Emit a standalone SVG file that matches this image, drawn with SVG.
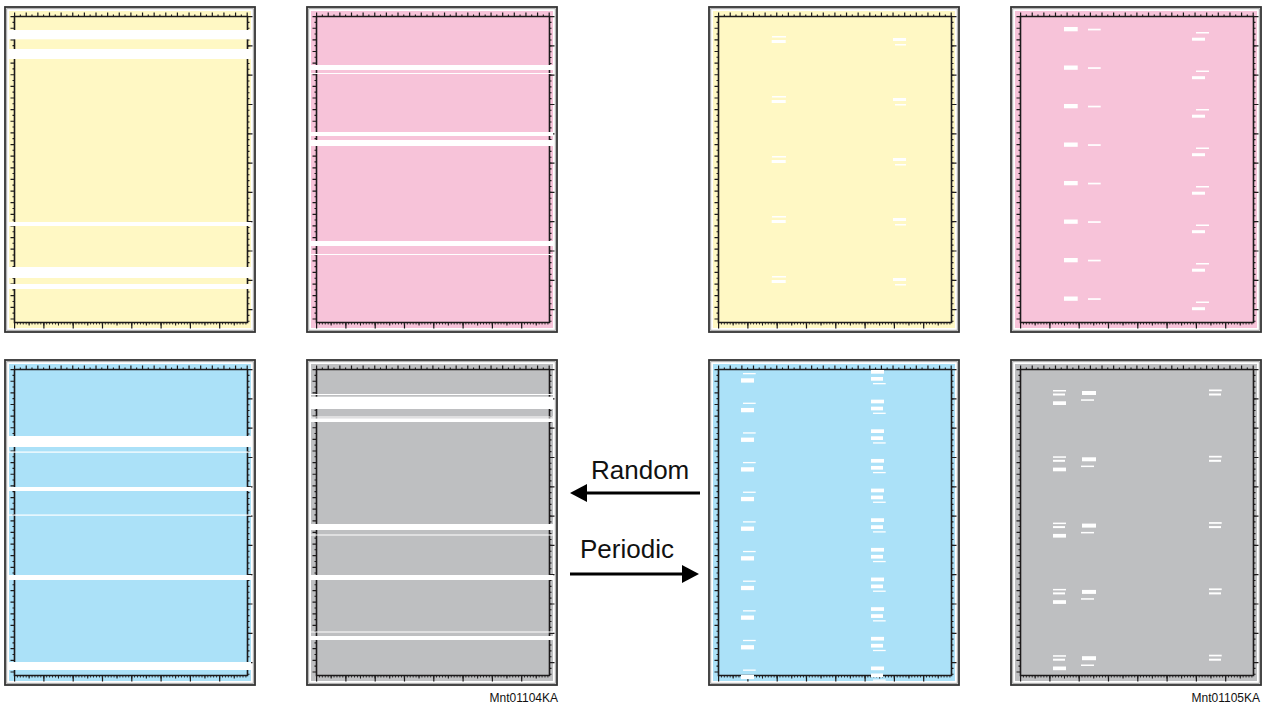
<svg xmlns="http://www.w3.org/2000/svg" width="1262" height="707" viewBox="0 0 1262 707">
<style>
.frame{fill:#fff;stroke:#333;stroke-width:1.8}
.inner{fill:none;stroke:#9a9a9a;stroke-width:0.9}
.tk{fill:none;stroke:#1c1a1b}
.w rect,.w{fill:#fff}
.cy{fill:#fff8c4}.cp{fill:#f7c3d9}.cc{fill:#abe1f8}.cg{fill:#bebfc1}
.lbl{font-family:"Liberation Sans",Arial,sans-serif;fill:#111}
.arr{stroke:#000;stroke-width:3;fill:none}
</style>
<defs>
<marker id="ah" markerUnits="userSpaceOnUse" markerWidth="18" markerHeight="19" refX="0" refY="9" orient="auto">
<path d="M0,0 L17,9 L0,18 Z" fill="#000"/>
</marker>
<g id="ruler" class="tk">
<path d="M9.5,315.5 V9.5 H242.5 V315.5 Z" stroke-width="1.6"/>
<line x1="9" y1="7.5" x2="243" y2="7.5" stroke-width="4" stroke-dasharray="1.2 10.43"/>
<line x1="14.8" y1="8.5" x2="243" y2="8.5" stroke-width="2" stroke-dasharray="1.1 10.53"/>
<line x1="7.5" y1="9" x2="7.5" y2="316" stroke-width="4" stroke-dasharray="1.2 10.43"/>
<line x1="8.5" y1="14.8" x2="8.5" y2="316" stroke-width="2" stroke-dasharray="1.1 10.53"/>
<line x1="243.5" y1="9" x2="243.5" y2="316" stroke-width="2" stroke-dasharray="1.1 4.76"/>
<line x1="245" y1="9" x2="245" y2="316" stroke-width="5" stroke-dasharray="1.2 28.1"/>
<line x1="9" y1="316.5" x2="243" y2="316.5" stroke-width="2.2" stroke-dasharray="0.9 2.03"/>
<line x1="9" y1="317" x2="243" y2="317" stroke-width="3" stroke-dasharray="1 13.65"/>
<line x1="9" y1="318.5" x2="243" y2="318.5" stroke-width="6" stroke-dasharray="1.2 28.1"/>
</g>
<g id="box">
<rect class="frame" width="250" height="325"/>
<rect class="inner" x="1.7" y="1.7" width="246.6" height="321.6"/>
</g>
<g id="m3" class="w">
<rect x="63" y="29" width="14" height="1.5"/>
<rect x="62.7" y="33" width="14" height="3"/>
<rect x="184" y="31" width="13" height="3"/>
<rect x="186" y="37" width="11" height="1.5"/>
</g>
<g id="m4" class="w">
<rect x="53" y="20" width="13.7" height="4.3"/>
<rect x="77" y="21.7" width="12.7" height="1.7"/>
<rect x="185" y="25" width="13" height="1.5"/>
<rect x="181" y="30.7" width="13" height="3"/>
</g>
<g id="m7" class="w">
<rect x="34" y="13" width="12.7" height="1.3"/>
<rect x="32" y="18.3" width="13" height="4.3"/>
<rect x="162" y="10" width="13" height="3.7"/>
<rect x="162" y="17" width="12" height="3.7"/>
<rect x="164" y="23" width="12.7" height="1.3"/>
</g>
<g id="m8" class="w">
<rect x="42" y="30" width="13" height="1.5"/>
<rect x="42" y="33.5" width="12" height="2"/>
<rect x="42" y="41.3" width="13" height="3.7"/>
<rect x="71" y="31" width="14" height="4"/>
<rect x="70" y="39.3" width="13" height="1.5"/>
<rect x="198" y="29.5" width="12.7" height="1.7"/>
<rect x="198" y="33.5" width="12" height="2"/>
</g>
</defs>

<g id="p1-yellow-random" transform="translate(5,7)">
<use href="#box"/>
<rect class="cy" x="4" y="4" width="242" height="317"/>
<use href="#ruler"/>
<g class="w">
<rect x="4" y="23" width="242" height="9.3"/>
<rect x="4" y="42" width="242" height="10"/>
<rect x="4" y="215" width="242" height="4"/>
<rect x="4" y="260" width="242" height="11"/>
<rect x="4" y="277" width="242" height="5"/>
</g>
</g>

<g id="p2-magenta-random" transform="translate(307,7)">
<use href="#box"/>
<rect class="cp" x="4" y="4" width="242" height="317"/>
<use href="#ruler"/>
<g class="w">
<rect x="4" y="58" width="242" height="5"/>
<rect x="4" y="66" width="242" height="1"/>
<rect x="4" y="125" width="242" height="4"/>
<rect x="4" y="133" width="242" height="6"/>
<rect x="4" y="234" width="242" height="5"/>
<rect x="4" y="247" width="242" height="1"/>
</g>
</g>

<g id="p3-yellow-periodic" transform="translate(709,7)">
<use href="#box"/>
<rect class="cy" x="4" y="4" width="242" height="317"/>
<use href="#ruler"/>
<use href="#m3"/>
<use href="#m3" y="60"/>
<use href="#m3" y="120"/>
<use href="#m3" y="180"/>
<use href="#m3" y="240"/>
</g>

<g id="p4-magenta-periodic" transform="translate(1011,7)">
<use href="#box"/>
<rect class="cp" x="4" y="4" width="242" height="317"/>
<use href="#ruler"/>
<use href="#m4"/>
<use href="#m4" y="38.5"/>
<use href="#m4" y="77"/>
<use href="#m4" y="115.5"/>
<use href="#m4" y="154"/>
<use href="#m4" y="192.5"/>
<use href="#m4" y="231"/>
<use href="#m4" y="269.5"/>
</g>

<g id="p5-cyan-random" transform="translate(5,360)">
<use href="#box"/>
<rect class="cc" x="4" y="4" width="242" height="317"/>
<use href="#ruler"/>
<g class="w">
<rect x="4" y="76" width="242" height="11"/>
<rect x="4" y="91.5" width="242" height="1.2"/>
<rect x="4" y="127" width="242" height="4"/>
<rect x="4" y="154.5" width="242" height="1.2"/>
<rect x="4" y="215" width="242" height="5"/>
<rect x="4" y="302" width="242" height="8"/>
</g>
</g>

<g id="p6-black-random" transform="translate(307,360)">
<use href="#box"/>
<rect class="cg" x="4" y="4" width="242" height="317"/>
<use href="#ruler"/>
<g class="w">
<rect x="4" y="34" width="242" height="1"/>
<rect x="4" y="36.7" width="242" height="12.3"/>
<rect x="4" y="56.5" width="242" height="1"/>
<rect x="4" y="58.3" width="242" height="3.7"/>
<rect x="4" y="164" width="242" height="6"/>
<rect x="4" y="174.5" width="242" height="1"/>
<rect x="4" y="215" width="242" height="5"/>
<rect x="4" y="271.5" width="242" height="1"/>
<rect x="4" y="276" width="242" height="4"/>
</g>
</g>

<g id="p7-cyan-periodic" transform="translate(709,360)">
<use href="#box"/>
<rect class="cc" x="4" y="4" width="242" height="317"/>
<use href="#ruler"/>
<use href="#m7"/>
<use href="#m7" y="29.65"/>
<use href="#m7" y="59.3"/>
<use href="#m7" y="88.95"/>
<use href="#m7" y="118.6"/>
<use href="#m7" y="148.25"/>
<use href="#m7" y="177.9"/>
<use href="#m7" y="207.55"/>
<use href="#m7" y="237.2"/>
<use href="#m7" y="266.85"/>
<use href="#m7" y="296.5"/>
</g>

<g id="p8-black-periodic" transform="translate(1011,360)">
<use href="#box"/>
<rect class="cg" x="4" y="4" width="242" height="317"/>
<use href="#ruler"/>
<use href="#m8"/>
<use href="#m8" y="66.3"/>
<use href="#m8" y="132.6"/>
<use href="#m8" y="198.9"/>
<use href="#m8" y="265.2"/>
</g>

<g id="connectors">
<line class="arr" x1="700" y1="493" x2="587" y2="493" marker-end="url(#ah)"/>
<line class="arr" x1="570" y1="574" x2="682" y2="574" marker-end="url(#ah)"/>
</g>

<g id="labels">
<text class="lbl" x="591" y="479" font-size="26">Random</text>
<text class="lbl" x="580" y="558" font-size="26">Periodic</text>
<text class="lbl" x="558" y="702" font-size="12" text-anchor="end" fill="#333">Mnt01104KA</text>
<text class="lbl" x="1260" y="702" font-size="12" text-anchor="end" fill="#333">Mnt01105KA</text>
</g>
</svg>
